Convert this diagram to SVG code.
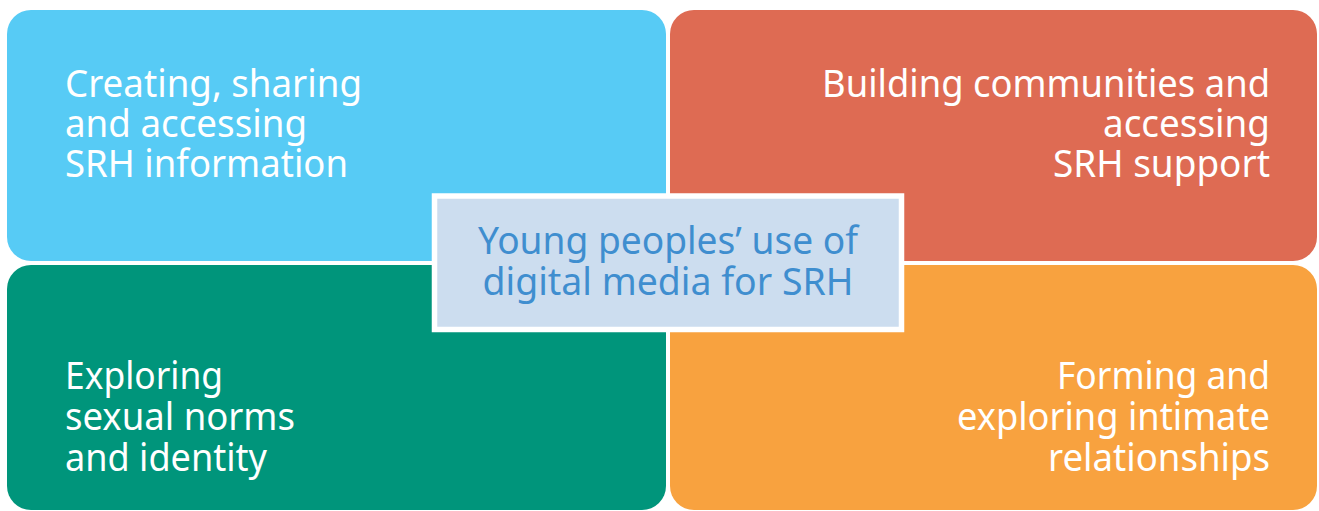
<svg xmlns="http://www.w3.org/2000/svg" width="1319" height="511" viewBox="0 0 1319 511">
  <style>
    .quad { stroke: none; }
    .lbl { font-family: "Noto Sans", "Open Sans", sans-serif; font-size: 37.5px; fill: #ffffff; }
    .core { font-family: "Noto Sans", "Open Sans", sans-serif; font-size: 38px; fill: #3f8ecf; text-anchor: middle; }
  </style>
  <rect width="1319" height="511" fill="#ffffff"/>

  <g id="info">
    <rect class="quad" x="7" y="10" width="659" height="251" rx="24" fill="#57cbf5"/>
    <text class="lbl" x="65" y="97" textLength="297" lengthAdjust="spacingAndGlyphs">Creating, sharing</text>
    <text class="lbl" x="65" y="137" textLength="242" lengthAdjust="spacingAndGlyphs">and accessing</text>
    <text class="lbl" x="65" y="177" textLength="283" lengthAdjust="spacingAndGlyphs">SRH information</text>
  </g>

  <g id="support">
    <rect class="quad" x="670" y="10" width="647" height="251" rx="24" fill="#de6b53"/>
    <text class="lbl" x="822" y="97" textLength="448" lengthAdjust="spacingAndGlyphs">Building communities and</text>
    <text class="lbl" x="1103" y="137" textLength="167" lengthAdjust="spacingAndGlyphs">accessing</text>
    <text class="lbl" x="1053" y="177" textLength="217" lengthAdjust="spacingAndGlyphs">SRH support</text>
  </g>

  <g id="identity">
    <rect class="quad" x="7" y="265" width="659" height="245" rx="24" fill="#00957b"/>
    <text class="lbl" x="65" y="389" textLength="158" lengthAdjust="spacingAndGlyphs">Exploring</text>
    <text class="lbl" x="65" y="430" textLength="230" lengthAdjust="spacingAndGlyphs">sexual norms</text>
    <text class="lbl" x="65" y="471" textLength="202" lengthAdjust="spacingAndGlyphs">and identity</text>
  </g>

  <g id="relationships">
    <rect class="quad" x="670" y="265" width="647" height="245" rx="24" fill="#f8a23f"/>
    <text class="lbl" x="1057" y="389" textLength="213" lengthAdjust="spacingAndGlyphs">Forming and</text>
    <text class="lbl" x="957" y="430" textLength="313" lengthAdjust="spacingAndGlyphs">exploring intimate</text>
    <text class="lbl" x="1048" y="471" textLength="222" lengthAdjust="spacingAndGlyphs">relationships</text>
  </g>

  <g id="center">
    <rect x="434.5" y="196" width="467" height="133.5" fill="#ccddef" stroke="#ffffff" stroke-width="5.5"/>
    <text class="core" x="668" y="254" textLength="380" lengthAdjust="spacingAndGlyphs">Young peoples’ use of</text>
    <text class="core" x="668" y="295" textLength="371" lengthAdjust="spacingAndGlyphs">digital media for SRH</text>
  </g>

  <g id="connectors"/>
</svg>
